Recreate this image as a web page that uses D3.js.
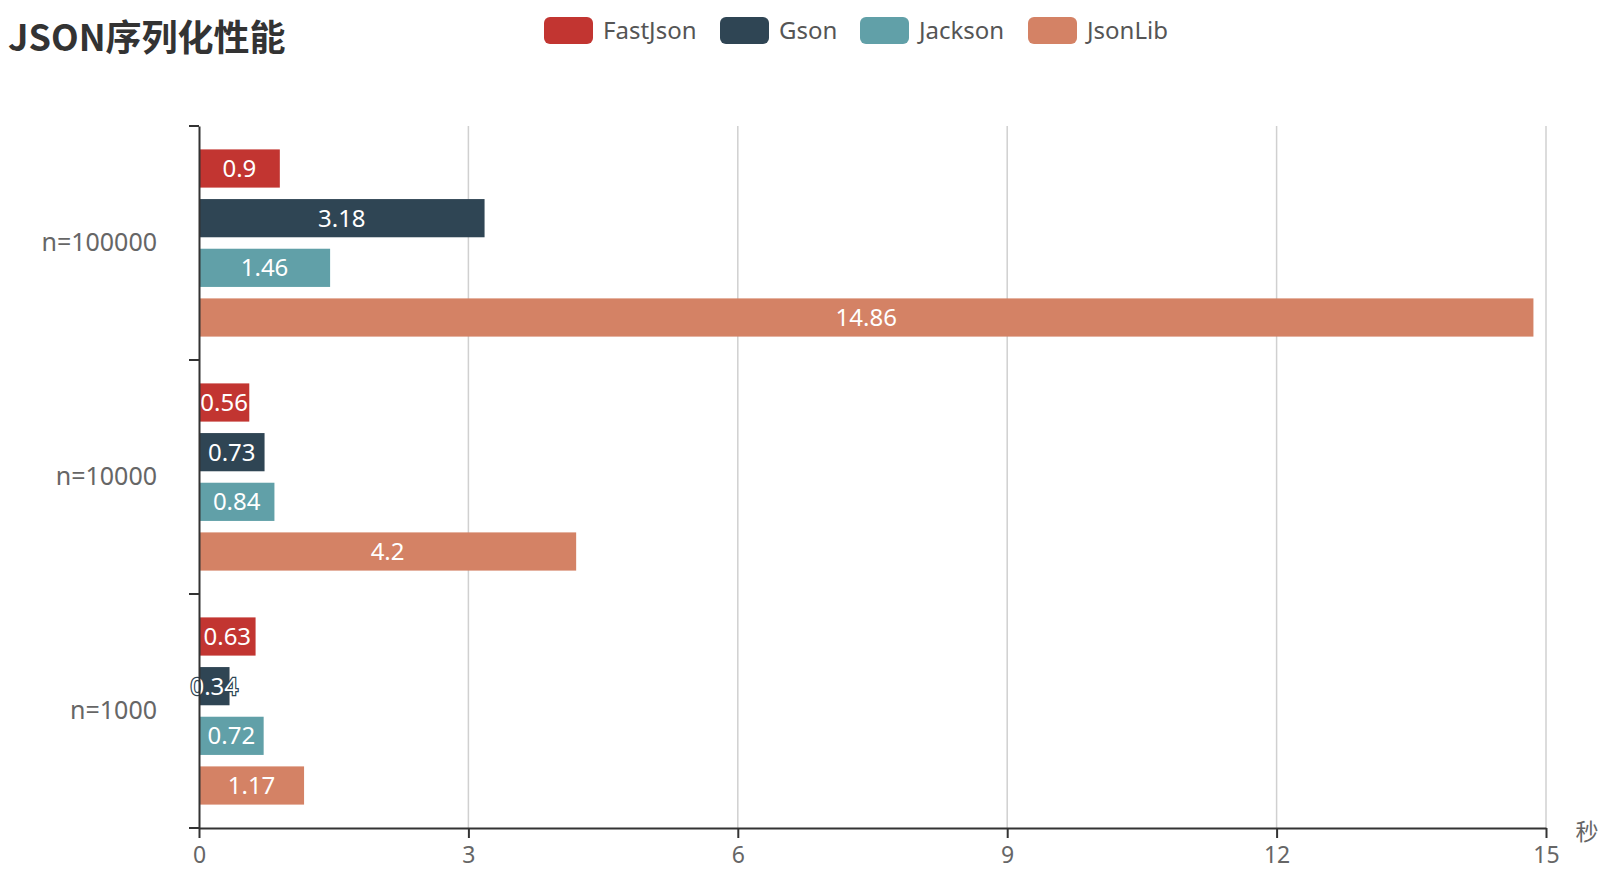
<!DOCTYPE html>
<html>
<head>
<meta charset="utf-8">
<script src="https://cdn.jsdelivr.net/npm/d3@7/dist/d3.min.js"></script>
<style>
  html, body { margin: 0; padding: 0; background: #fff; }
  svg { display: block; font-family: "Noto Sans", "Noto Sans CJK SC", sans-serif; }
</style>
</head>
<body>
<svg id="chart" width="1602" height="876"></svg>
<script>
const title = "JSON序列化性能";
const categories = ["n=100000", "n=10000", "n=1000"];
const seriesNames = ["FastJson", "Gson", "Jackson", "JsonLib"];
const fastJson = [0.9, 0.56, 0.63];
const gson = [3.18, 0.73, 0.34];
const jackson = [1.46, 0.84, 0.72];
const jsonLib = [14.86, 4.2, 1.17];
const xTicks = [0, 3, 6, 9, 12, 15];
const xAxisName = "秒";
const colors = ["#c23531", "#2f4554", "#61a0a8", "#d48265"];

(function () {
const seriesValues = [fastJson, gson, jackson, jsonLib];
const data = [];
categories.forEach((c, ci) => {
  seriesNames.forEach((s, si) => {
    data.push({ cat: c, series: s, value: seriesValues[si][ci], color: colors[si] });
  });
});

const svg = d3.select("#chart");
const mLeft = 199, mRight = 1546, mTop = 126, mBottom = 828;

const x = d3.scaleLinear().domain([0, 15]).range([mLeft, mRight]);
const y = d3.scaleBand().domain(categories).range([mTop, mBottom]).paddingInner(0).paddingOuter(0);
const bw = y.bandwidth();
const inner = d3.scaleBand().domain(seriesNames)
  .range([bw * 0.1, bw * 0.9])
  .paddingInner(0.3 / 1.3).paddingOuter(0);

// grid lines
svg.append("g").selectAll("line")
  .data(xTicks.filter(d => d !== 0))
  .join("line")
  .attr("x1", d => x(d)).attr("x2", d => x(d))
  .attr("y1", mTop).attr("y2", mBottom)
  .attr("stroke", "#d0d0d0").attr("stroke-width", 1.5);

// bars
const bars = svg.append("g");
bars.selectAll("rect")
  .data(data)
  .join("rect")
  .attr("x", x(0))
  .attr("y", d => y(d.cat) + inner(d.series))
  .attr("width", d => x(d.value) - x(0))
  .attr("height", inner.bandwidth())
  .attr("fill", d => d.color);

bars.selectAll("text")
  .data(data)
  .join("text")
  .attr("x", d => (x(0) + x(d.value)) / 2)
  .attr("y", d => y(d.cat) + inner(d.series) + inner.bandwidth() / 2)
  .attr("dy", "0.36em")
  .attr("text-anchor", "middle")
  .attr("font-size", 24)
  .attr("fill", "#fff")
  .attr("stroke", d => d.color)
  .attr("stroke-width", 2.5)
  .attr("paint-order", "stroke")
  .text(d => d.value);

// x axis
const xAxis = svg.append("g")
  .attr("transform", `translate(0,${mBottom})`)
  .call(d3.axisBottom(x).tickValues(xTicks).tickSize(10).tickPadding(9).tickSizeOuter(0));
xAxis.select(".domain").attr("stroke", "#333").attr("stroke-width", 2);
xAxis.selectAll(".tick line").attr("stroke", "#333").attr("stroke-width", 2);
xAxis.selectAll(".tick text").attr("font-size", 23).attr("fill", "#666")
  .attr("font-family", "\"Noto Sans\", sans-serif");

svg.append("text")
  .attr("x", 1587).attr("y", 832).attr("dy", "0.35em")
  .attr("text-anchor", "middle")
  .attr("font-size", 23).attr("fill", "#666")
  .text(xAxisName);

// y axis
const yAxis = svg.append("g")
  .attr("transform", `translate(${mLeft},0)`)
  .call(d3.axisLeft(y).tickSize(0).tickPadding(42));
yAxis.select(".domain").attr("stroke", "#333").attr("stroke-width", 2);
yAxis.selectAll(".tick text").attr("font-size", 25).attr("fill", "#666")
  .attr("font-family", "\"Noto Sans\", sans-serif");

const boundaries = categories.map(c => y(c)).concat([y(categories[categories.length - 1]) + bw]);
svg.append("g").selectAll("line")
  .data(boundaries)
  .join("line")
  .attr("x1", mLeft - 10).attr("x2", mLeft)
  .attr("y1", d => d).attr("y2", d => d)
  .attr("stroke", "#333").attr("stroke-width", 2);

// title
svg.append("text")
  .attr("x", 8).attr("y", 51)
  .attr("font-size", 36).attr("font-weight", "bold").attr("fill", "#333")
  .attr("font-family", "\"Noto Sans CJK SC\", sans-serif")
  .text(title);

// legend
const legendX = [544, 720, 860, 1028];
const legend = svg.append("g");
const items = legend.selectAll("g")
  .data(seriesNames)
  .join("g")
  .attr("transform", (d, i) => `translate(${legendX[i]},17)`);
items.append("rect")
  .attr("width", 49).attr("height", 27).attr("rx", 6)
  .attr("fill", (d, i) => colors[i]);
items.append("text")
  .attr("x", 59).attr("y", 13.5).attr("dy", "0.36em")
  .attr("font-size", 24).attr("fill", "#555")
  .text(d => d);
})();
</script>
</body>
</html>
